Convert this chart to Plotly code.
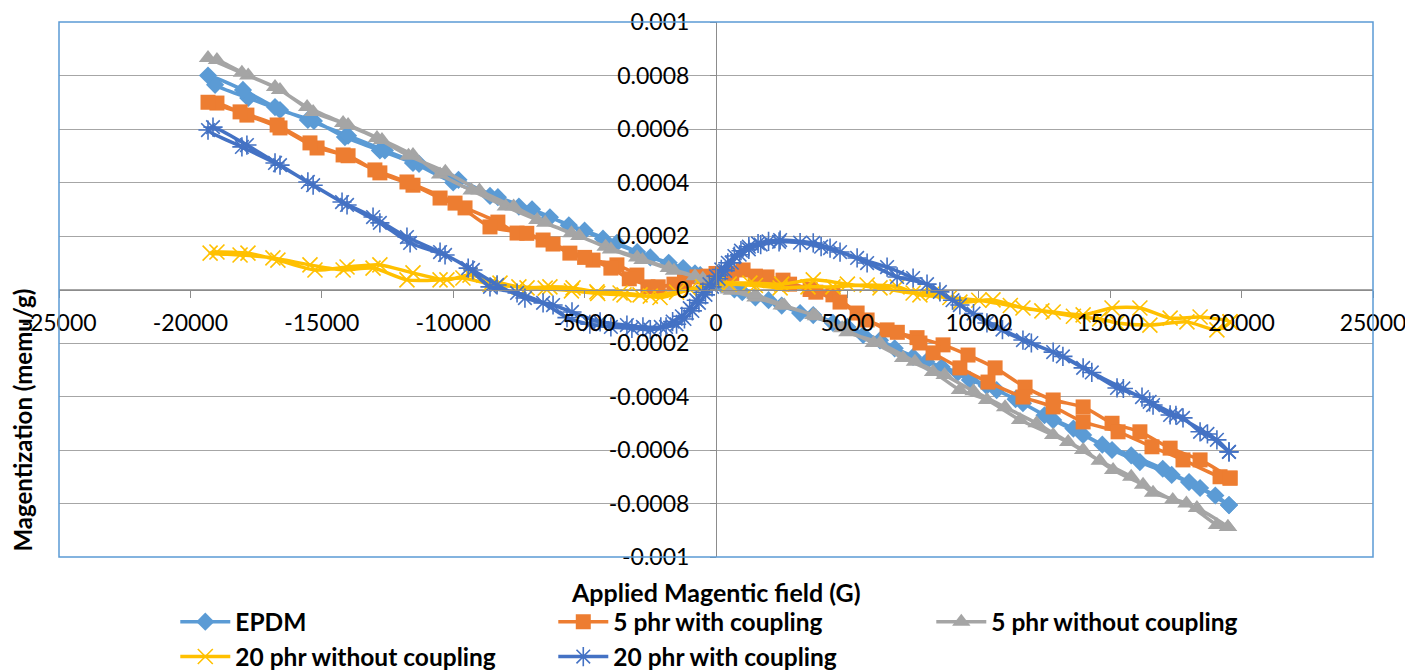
import plotly.graph_objects as go

# ---------------- data (Applied field in G, magnetization in memu/g) ----------------
series_names = ["EPDM", "5 phr with coupling", "5 phr without coupling",
                "20 phr without coupling", "20 phr with coupling"]

epdm_h = [19520, 18420, 17340, 16130, 15070, 13970, 12830, 11680, 10680, 9660, 8590, 7500,
          6240, 5000, 3700, 2500, 1500, 700, 0, -600, -1250, -2500, -3770, -5000, -6320,
          -7500, -8600, -10000, -11530, -12790, -14120, -15300, -16590, -17800, -19060, -19330,
          -18000, -16780, -15530, -14000, -12600, -11300, -9800, -8300, -7000, -5600, -4300,
          -3000, -1800, -800, 200, 1000, 2000, 3200, 4450, 5600, 6800, 8000, 9200, 10300, 11400,
          12500, 13600, 14700, 15800, 17000, 18000, 19000, 19520]
epdm_m = [-0.000806, -0.000742, -0.000693, -0.000645, -0.0006, -0.000544, -0.000488, -0.000425,
          -0.000376, -0.000338, -0.00029, -0.000252, -0.00019, -0.00014, -0.0000955, -0.00006,
          -0.00003, 0.0, 0.00003, 0.000054, 0.00008, 0.00012, 0.000174, 0.00022, 0.00027,
          0.00031, 0.00035, 0.0004, 0.000473, 0.00052, 0.00057, 0.00063, 0.000671, 0.000716,
          0.000765, 0.0008,
          0.000746, 0.000682, 0.000634, 0.000575, 0.00052, 0.00047, 0.00041, 0.000345, 0.0003,
          0.00024, 0.00019, 0.00014, 0.0001, 0.00006, 0.00002, -0.00001, -0.00004, -0.000088,
          -0.000125, -0.00017, -0.00022, -0.00027, -0.00031, -0.00036, -0.00041, -0.00047,
          -0.00052, -0.00058, -0.00062, -0.00067, -0.00072, -0.00077, -0.000806]

c5_h = [19560, 18420, 17280, 16130, 15070, 13970, 12830, 11760, 10620, 9590, 8640, 7650, 6510,
        5370, 4450, 3580, 2550, 1940, 1030, 0, -720, -1600, -2590, -3010, -3770, -4680, -5560,
        -6580, -7570, -8300, -9550, -10500, -11530, -12790, -14000, -15180, -16590, -17850,
        -18990, -19330,
        -18110, -16700, -15450, -14190, -12980, -11760, -9930, -8600, -7200, -6200, -5000,
        -4000, -3300, -2200, -1200, -300, 600, 1500, 2800, 3800, 4720, 5750, 6900, 7760, 8260,
        9280, 10350, 11680, 12830, 13970, 15300, 16590, 17770, 19180, 19560]
c5_m = [-0.000705, -0.000637, -0.000593, -0.000532, -0.0005, -0.000439, -0.000413, -0.000365,
        -0.000293, -0.000245, -0.000207, -0.00018, -0.000151, -0.000088, -0.00002, 0.0,
        0.000035, 0.000047, 0.000073, 0.00006, 0.000047, 0.00002, 0.00001, 0.000054, 0.000092,
        0.00011, 0.000136, 0.000185, 0.000211, 0.000252, 0.000305, 0.000342, 0.00039, 0.000436,
        0.0005, 0.000529, 0.000604, 0.000652, 0.000697, 0.0007,
        0.000664, 0.000615, 0.000548, 0.000503, 0.000447, 0.000402, 0.000323, 0.000234,
        0.00021, 0.00017, 0.00012, 0.00008, 0.00004, 0.00001, 0.00003, 0.00005, 0.00006,
        0.00005, 0.00002, -0.00001, -0.000047, -0.000114, -0.00016, -0.0002, -0.000237,
        -0.000293, -0.000346, -0.000402, -0.000439, -0.000495, -0.000532, -0.000588,
        -0.000637, -0.0007, -0.000705]

n5_h = [19480, 18300, 17380, 16250, 15110, 13970, 12830, 11570, 10310, 9280, 8260, 7120, 6000,
        4800, 3700, 2500, 1500, 600, 0, -800, -1800, -3000, -4200, -5500, -6800, -8000, -9300,
        -10500, -11530, -12710, -14000, -15330, -16590, -17800, -18990, -19330,
        -18040, -16780, -15560, -14190, -12900, -11700, -10300, -9000, -7700, -6500, -5200,
        -4000, -2800, -1600, -500, 500, 1500, 2600, 3800, 5000, 6240, 7570, 8700, 9800, 11000,
        12200, 13400, 14600, 15800, 16630, 17900, 19060, 19480]
n5_m = [-0.000888, -0.000817, -0.000787, -0.00073, -0.000675, -0.0006, -0.000544, -0.000488,
        -0.000413, -0.000376, -0.000308, -0.000256, -0.0002, -0.000145, -0.0000955, -0.00006,
        -0.00003, -0.000005, 0.00002, 0.00005, 0.00008, 0.00012, 0.00016, 0.00021, 0.00026,
        0.00031, 0.00037, 0.00043, 0.000503, 0.000559, 0.000615, 0.000664, 0.000746, 0.0008,
        0.000858, 0.000865,
        0.00081, 0.000757, 0.000682, 0.000622, 0.000566, 0.0005, 0.00044, 0.00037, 0.00031,
        0.00025, 0.0002, 0.00015, 0.00011, 0.00007, 0.00004, 0.0, -0.00002, -0.00006, -0.0001,
        -0.00016, -0.0002, -0.00027, -0.00032, -0.00038, -0.00044, -0.0005, -0.00057,
        -0.00064, -0.0007, -0.00076, -0.0008, -0.00088, -0.000888]

n20_h = [19560, 18420, 17280, 16130, 15070, 13970, 12830, 11680, 10540, 9280, 8260, 7500, 6240,
         5000, 3700, 2500, 1290, 40, -990, -2130, -2890, -3650, -4530, -5440, -6320, -7190,
         -8220, -9360, -10240, -11530, -12790, -14040, -15260, -16670, -17810, -18990, -19250,
         -18110, -16860, -15450, -14190, -13050, -11760, -10500, -9630, -8600, -7500, -6500,
         -5500, -4500, -3500, -2500, -1500, -500, 500, 1500, 2440, 3500, 4450, 5750, 6890, 7760,
         8900, 10000, 11200, 12400, 13600, 14600, 15260, 16510, 17920, 19060, 19560]
n20_m = [-0.000121, -0.000103, -0.000107, -0.000069, -0.000069, -0.000095, -0.000084,
         -0.000069, -0.000039, -0.000047, -0.000013, -0.000013, 0.000006, 0.00002, 0.000036,
         0.00002, 0.000024, 0.000024, 0.0, -0.00003, -0.00002, -0.000013, -0.000009, 0.000006,
         0.00001, 0.000006, 0.000024, 0.000054, 0.000036, 0.000062, 0.000092, 0.000084,
         0.000073, 0.00011, 0.000136, 0.00014, 0.000136,
         0.000129, 0.000118, 0.000092, 0.000073, 0.00008, 0.000036, 0.000036, 0.000043,
         0.00002, 0.00001, 0.000005, -0.000005, -0.000015, -0.00002, -0.000025, -0.00001,
         0.00001, 0.00002, 0.000015, 0.000006, 0.00001, 0.00001, 0.000017, 0.00001, -0.00002,
         -0.00003, -0.00004, -0.00006, -0.00008, -0.0001, -0.00011, -0.000125, -0.000133,
         -0.000121, -0.000151, -0.000121]

c20_h = [19520, 19060, 18420, 17770, 17280, 16630, 16210, 15260, 13970, 12830, 11680, 10310,
         9280, 8520, 7500, 6510, 5370, 4340, 3700, 2440, 2000, 1600, 1250, 950, 700, 450, 200, 0,
         -250, -500, -750, -1000, -1300, -1650, -2100, -2780, -3390, -4410, -5480, -6200,
         -7270, -8330, -9250, -10310, -11640, -12790, -14040, -15330, -16590, -17850, -19140,
         -19330,
         -18040, -16780, -15530, -14230, -13050, -11760, -10500, -9430, -8600, -7570, -6580,
         -5670, -4800, -4000, -3200, -2500, -1900, -1500, -1200, -900, -650, -400, -150, 100,
         350, 600, 900, 1250, 1700, 2400, 3200, 4000, 4720, 5750, 6890, 8030, 9000, 9800,
         10900, 12000, 13200, 14300, 15500, 16500, 17500, 18700, 19520]
c20_m = [-0.000607, -0.000562, -0.000532, -0.00048, -0.000469, -0.000432, -0.000402,
         -0.000368, -0.000293, -0.000234, -0.000189, -0.000125, -0.000058, -0.000009,
         0.000043, 0.000084, 0.000118, 0.000155, 0.000174, 0.000185, 0.00018, 0.000172,
         0.00016, 0.000145, 0.000125, 0.0001, 0.000075, 0.00005, 0.00002, -0.00001, -0.00004,
         -0.00007, -0.0001, -0.00012, -0.00014, -0.00014, -0.000133, -0.000121, -0.000084,
         -0.000058, -0.000032, 0.000017, 0.000073, 0.000129, 0.000174, 0.000249, 0.000316,
         0.00039, 0.000465, 0.00054, 0.000607, 0.000596,
         0.000533, 0.000473, 0.000402, 0.000327, 0.000271, 0.000196, 0.00014, 0.00008,
         0.00001, -0.000013, -0.00005, -0.000105, -0.00013, -0.00014, -0.000145, -0.00015,
         -0.00014, -0.00013, -0.00011, -0.00008, -0.00005, -0.00002, 0.00001, 0.00004,
         0.00007, 0.0001, 0.00013, 0.00015, 0.000168, 0.000178, 0.000175, 0.00016, 0.00014,
         0.000099, 0.000047, 0.00002, -0.00004, -0.00009, -0.00015, -0.0002, -0.00025,
         -0.00031, -0.00037, -0.00042, -0.00047, -0.00054, -0.000607]

x_ticks = [-25000, -20000, -15000, -10000, -5000, 0, 5000, 10000, 15000, 20000, 25000]
x_tick_labels = ["-25000", "-20000", "-15000", "-10000", "-5000", "0", "5000", "10000",
                 "15000", "20000", "25000"]
y_ticks = [0.001, 0.0008, 0.0006, 0.0004, 0.0002, 0, -0.0002, -0.0004, -0.0006, -0.0008, -0.001]
y_tick_labels = ["0.001", "0.0008", "0.0006", "0.0004", "0.0002", "0", "-0.0002", "-0.0004",
                 "-0.0006", "-0.0008", "-0.001"]

# ---------------- styling ----------------
FONT = "Lato, Carlito, Calibri, sans-serif"
styles = [
    dict(color="#5B9BD5", symbol="diamond", size=14, lw=0),
    dict(color="#ED7D31", symbol="square", size=15, lw=0),
    dict(color="#A5A5A5", symbol="triangle-up", size=16, lw=0),
    dict(color="#FFC000", symbol="x-thin-open", size=15, lw=1.6),
    dict(color="#4472C4", symbol="asterisk-open", size=16, lw=1.6),
]
data = [(epdm_h, epdm_m), (c5_h, c5_m), (n5_h, n5_m), (n20_h, n20_m), (c20_h, c20_m)]

fig = go.Figure()
for name, (h, m), st in zip(series_names, data, styles):
    fig.add_trace(go.Scatter(
        x=h, y=m, mode="lines+markers", name=name,
        line=dict(color=st["color"], width=3.5, shape="spline", smoothing=0.7),
        marker=dict(symbol=st["symbol"], size=st["size"], color=st["color"],
                    line=dict(color=st["color"], width=st["lw"])),
    ))

grey = "#8C8C8C"
fig.update_layout(
    width=1405, height=663,
    margin=dict(l=51, r=40, t=14, b=114, autoexpand=False),
    paper_bgcolor="white", plot_bgcolor="white",
    font=dict(family=FONT, size=23, color="black"),
    xaxis=dict(range=[-25000, 25000], tickvals=x_ticks, ticktext=x_tick_labels,
               showgrid=False, zeroline=False, showline=True, linecolor=grey, linewidth=1,
               ticks="outside", ticklen=7, tickcolor=grey, anchor="free", position=0.5,
               ticklabelstandoff=6, domain=[0, 1], automargin=False,
               ticklabeloverflow="allow"),
    yaxis=dict(range=[-0.001, 0.001], tickvals=y_ticks, ticktext=y_tick_labels,
               showgrid=True, gridcolor="#A6A6A6", gridwidth=1, zeroline=False,
               showline=True, linecolor=grey, linewidth=1, ticks="outside", ticklen=6,
               tickcolor=grey, anchor="free", position=0.5, ticklabelstandoff=16,
               domain=[0, 1], automargin=False, ticklabeloverflow="allow"),
    legend=dict(orientation="h", x=0.0885, y=-0.079, xanchor="left", yanchor="top",
                entrywidth=313, entrywidthmode="pixels", itemwidth=50,
                font=dict(family=FONT, size=24.5, color="black", weight="bold"),
                tracegroupgap=0, bgcolor="rgba(0,0,0,0)"),
    shapes=[dict(type="rect", xref="paper", yref="paper", x0=0, x1=1, y0=0, y1=1,
                 line=dict(color="#5B9BD5", width=1.5), layer="above")],
    annotations=[
        dict(text="Applied Magentic field (G)", xref="paper", yref="paper", x=0.5,
             y=-0.0654, xanchor="center", yanchor="middle", showarrow=False,
             font=dict(family=FONT, size=25, color="black", weight="bold")),
        dict(text="Magentization (memu/g)", xref="paper", yref="paper", x=-0.0274,
             y=0.257, xanchor="center", yanchor="middle", showarrow=False, textangle=-90,
             font=dict(family=FONT, size=24, color="black", weight="bold")),
    ],
)

fig.write_html("out.html")
